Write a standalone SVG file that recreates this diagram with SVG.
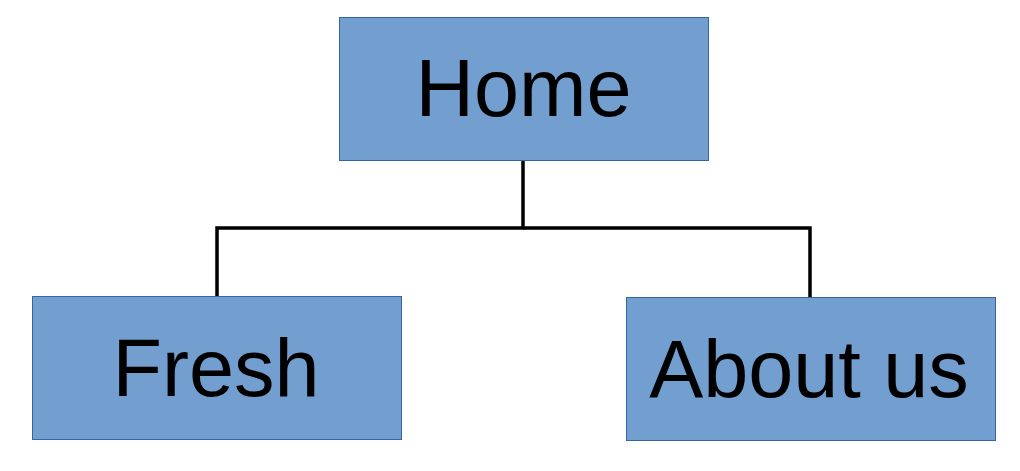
<svg xmlns="http://www.w3.org/2000/svg" width="1020" height="471" viewBox="0 0 1020 471">
<style>
.box{fill:#729fcf;stroke:#3465a4;stroke-width:1}
.lbl{font-family:"Liberation Sans",Arial,sans-serif;font-size:81px;fill:#000;text-anchor:middle}
.conn{fill:none;stroke:#000;stroke-width:3.5;stroke-linejoin:miter}
</style>
<rect width="1020" height="471" fill="#fff"/>
<g id="connectors">
<path class="conn" d="M523,160 V228 H217 V296"/>
<path class="conn" d="M523,228 H810 V297"/>
</g>
<g id="home"><rect class="box" x="339.5" y="17.5" width="369" height="143"/><text class="lbl" x="523.5" y="116">Home</text></g>
<g id="fresh"><rect class="box" x="32.5" y="296.5" width="369" height="143"/><text class="lbl" x="216" y="396">Fresh</text></g>
<g id="about"><rect class="box" x="626.5" y="297.5" width="369" height="143"/><text class="lbl" x="809" y="397">About us</text></g>
</svg>
